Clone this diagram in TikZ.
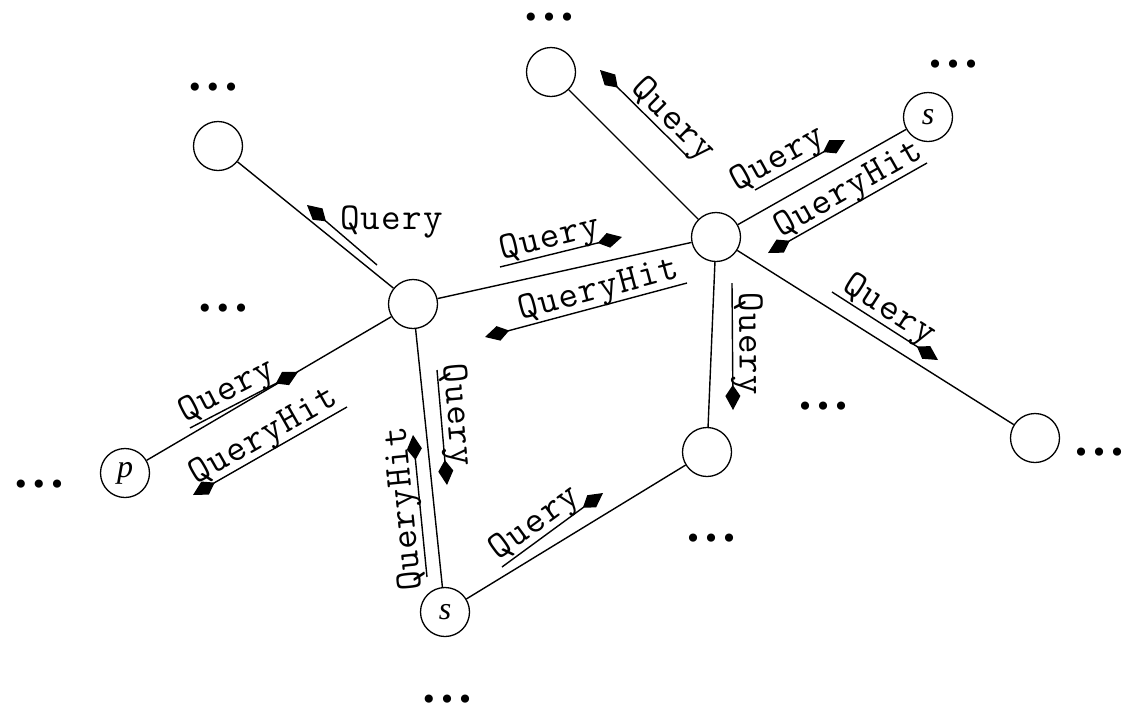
\documentclass[tikz,border=0pt]{standalone}
\usepackage{fontspec}
\setmainfont{Liberation Serif}
\newfontfamily\dotfont{DejaVu Sans}
\newfontfamily\msgfont[LetterSpace=3]{Latin Modern Mono}
\usetikzlibrary{arrows.meta}
\newcommand{\mydots}{\makebox[9pt]{•}\hspace{9pt}\makebox[9pt]{•}\hspace{9pt}\makebox[9pt]{•}}
\begin{document}
\begin{tikzpicture}[x=1pt,y=-1pt,
  peer/.style={circle,draw,line width=1.3pt,minimum size=49pt,inner sep=0pt,font=\fontsize{32}{32}\selectfont\itshape},
  edge/.style={line width=1.4pt},
  msg/.style={line width=1.4pt,-{Kite[length=25pt,width=15pt,inset=11pt]}},
  lab/.style={font=\msgfont\fontsize{38}{38}\selectfont,sloped,anchor=base,inner sep=0pt,yshift=7pt},
  flat/.style={font=\msgfont\fontsize{38}{38}\selectfont,inner sep=0pt},
  more/.style={font=\dotfont\fontsize{28}{28}\selectfont,inner sep=0pt,text height=10pt,text depth=0pt,yshift=-9pt}
]
\useasboundingbox (0,0) rectangle (1122,705);
\fill[white] (0,0) rectangle (1122,705);

% peers
\node[peer] (A) at (218,146) {};
\node[peer] (B) at (413,304) {};
\node[peer] (C) at (716,237) {};
\node[peer] (D) at (551,72) {};
\node[peer] (E) at (928,117) {s};
\node[peer] (F) at (1035,438) {};
\node[peer] (G) at (707,452) {};
\node[peer] (H) at (445,612) {s};
\node[peer] (P) at (125,473) {p};

% links
\draw[edge] (A) -- (B);
\draw[edge] (B) -- (C);
\draw[edge] (B) -- (P);
\draw[edge] (B) -- (H);
\draw[edge] (C) -- (D);
\draw[edge] (C) -- (E);
\draw[edge] (C) -- (F);
\draw[edge] (C) -- (G);
\draw[edge] (G) -- (H);

% continuation dots
\node[more] (m1) at (213,83) {\mydots};
\node[more] (m2) at (549,13) {\mydots};
\node[more] (m3) at (953,60) {\mydots};
\node[more] (m4) at (223,304) {\mydots};
\node[more] (m5) at (39,480) {\mydots};
\node[more] (m6) at (1099,448) {\mydots};
\node[more] (m7) at (823,402) {\mydots};
\node[more] (m8) at (711,534) {\mydots};
\node[more] (m9) at (447,695) {\mydots};

% message labels
\coordinate (s1) at (377,265); \coordinate (t1) at (307,205);
\draw[msg] (s1) -- (t1);
\node[flat,anchor=base west] (l1) at (340,229) {Query};

\coordinate (s2) at (688,157); \coordinate (t2) at (600,70);
\draw[msg] (s2) -- node[lab,pos=0.30] (l2) {Query} (t2);

\coordinate (s3) at (500,267); \coordinate (t3) at (622,237);
\draw[msg] (s3) -- node[lab,pos=0.44] (l3) {Query} (t3);

\coordinate (s4) at (687,283); \coordinate (t4) at (485,337);
\draw[msg] (s4) -- node[lab,pos=0.415] (l4) {QueryHit} (t4);

\coordinate (s5) at (755,190); \coordinate (t5) at (845,140);
\draw[msg] (s5) -- node[lab,pos=0.34] (l5) {Query} (t5);

\coordinate (s6) at (927,163); \coordinate (t6) at (768,253);
\draw[msg] (s6) -- node[lab,pos=0.445] (l6) {QueryHit} (t6);

\coordinate (s7) at (832,292); \coordinate (t7) at (938,360);
\draw[msg] (s7) -- node[lab,pos=0.46] (l7) {Query} (t7);

\coordinate (s8) at (732,283); \coordinate (t8) at (733,410);
\draw[msg] (s8) -- node[lab,pos=0.48] (l8) {Query} (t8);

\coordinate (s9) at (437,370); \coordinate (t9) at (447,485);
\draw[msg] (s9) -- node[lab,pos=0.405] (l9) {Query} (t9);

\coordinate (s10) at (427,577); \coordinate (t10) at (413,435);
\draw[msg] (s10) -- node[lab,allow upside down,pos=0.49] (l10) {QueryHit} (t10);

\coordinate (s11) at (190,428); \coordinate (t11) at (298,372);
\draw[msg] (s11) -- node[lab,pos=0.41] (l11) {Query} (t11);

\coordinate (s12) at (347,407); \coordinate (t12) at (193,495);
\draw[msg] (s12) -- node[lab,pos=0.49] (l12) {QueryHit} (t12);

\coordinate (s13) at (502,567); \coordinate (t13) at (603,493);
\draw[msg] (s13) -- node[lab,pos=0.42] (l13) {Query} (t13);
\end{tikzpicture}
\end{document}
